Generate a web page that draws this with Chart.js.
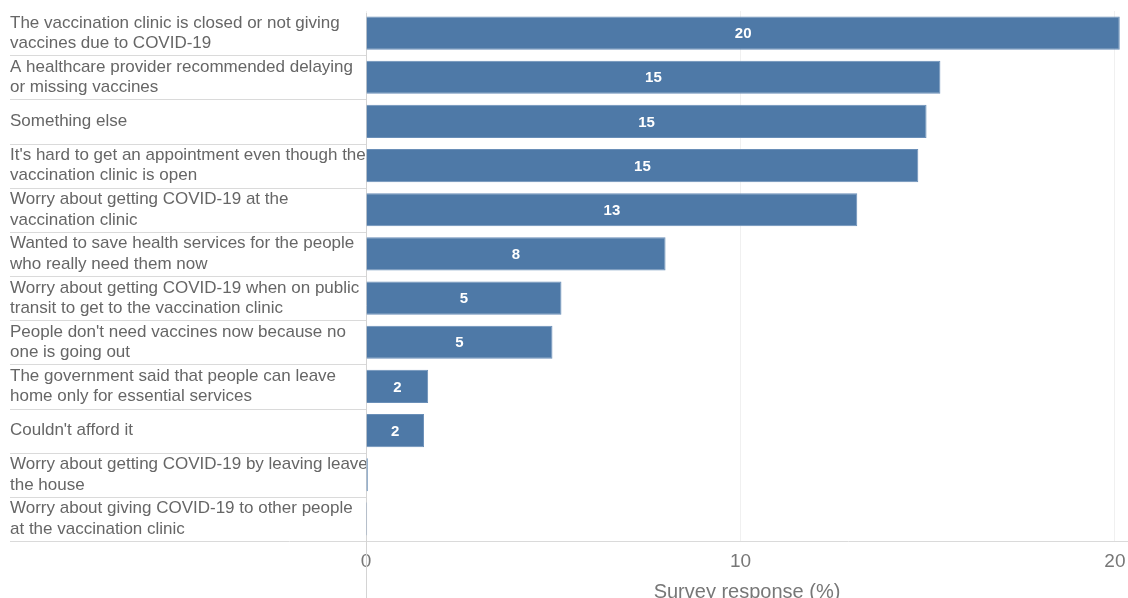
<!DOCTYPE html>
<html>
<head>
<meta charset="utf-8">
<script src="https://cdn.jsdelivr.net/npm/chart.js@4"></script>
<style>
  html, body { margin: 0; padding: 0; background: #fff; }
  #wrap { width: 1128px; height: 598px; position: relative; }
</style>
</head>
<body>
<div id="wrap"><canvas id="c" width="1128" height="598"></canvas></div>
<script>
const categories = [
  ["The vaccination clinic is closed or not giving", "vaccines due to COVID-19"],
  ["A healthcare provider recommended delaying", "or missing vaccines"],
  ["Something else"],
  ["It's hard to get an appointment even though the", "vaccination clinic is open"],
  ["Worry about getting COVID-19 at the", "vaccination clinic"],
  ["Wanted to save health services for the people", "who really need them now"],
  ["Worry about getting COVID-19 when on public", "transit to get to the vaccination clinic"],
  ["People don't need vaccines now because no", "one is going out"],
  ["The government said that people can leave", "home only for essential services"],
  ["Couldn't afford it"],
  ["Worry about getting COVID-19 by leaving leave", "the house"],
  ["Worry about giving COVID-19 to other people", "at the vaccination clinic"]
];
const responseValues = [20.13, 15.34, 14.97, 14.75, 13.12, 8.0, 5.22, 4.98, 1.66, 1.55, 0.05, 0.03];
const xTickValues = [0, 10, 20];
const xAxisTitle = "Survey response (%)";

const FONT = "'Liberation Sans', Arial, sans-serif";

const decorPlugin = {
  id: 'decor',
  beforeDatasetsDraw(chart) {
    const ctx = chart.ctx;
    const ca = chart.chartArea;
    const y = chart.scales.y;
    ctx.save();
    ctx.lineWidth = 1;
    ctx.strokeStyle = '#dadada';
    for (let i = 0; i < categories.length - 1; i++) {
      const py = Math.round((y.getPixelForValue(i) + y.getPixelForValue(i + 1)) / 2) + 0.5;
      ctx.beginPath();
      ctx.moveTo(10, py);
      ctx.lineTo(ca.left, py);
      ctx.stroke();
    }
    const by = Math.round(ca.bottom) + 0.5;
    ctx.beginPath();
    ctx.moveTo(10, by);
    ctx.lineTo(chart.width, by);
    ctx.stroke();
    const lx = Math.round(ca.left) + 0.5;
    ctx.strokeStyle = '#d4d4d4';
    ctx.beginPath();
    ctx.moveTo(lx, ca.top + 2);
    ctx.lineTo(lx, chart.height);
    ctx.stroke();
    ctx.restore();
  },
  afterDatasetsDraw(chart) {
    const ctx = chart.ctx;
    const meta = chart.getDatasetMeta(0);
    ctx.save();
    ctx.fillStyle = '#ffffff';
    ctx.font = "bold 15px " + FONT;
    ctx.textAlign = 'center';
    ctx.textBaseline = 'middle';
    meta.data.forEach((bar, i) => {
      const v = Math.round(responseValues[i]);
      if (v < 1) return;
      const p = bar.getProps(['x', 'y', 'base'], true);
      ctx.fillText(String(v), (p.x + p.base) / 2, p.y + 1);
    });
    ctx.restore();
  }
};

new Chart(document.getElementById('c'), {
  type: 'bar',
  data: {
    labels: categories,
    datasets: [{
      data: responseValues,
      backgroundColor: '#4e79a7',
      borderColor: '#6a8fb8',
      borderWidth: 1,
      categoryPercentage: 1.0,
      barPercentage: 0.75
    }]
  },
  options: {
    indexAxis: 'y',
    responsive: false,
    animation: false,
    devicePixelRatio: 1,
    layout: { padding: { left: 10, top: 11, right: 0, bottom: 0 } },
    plugins: {
      legend: { display: false },
      tooltip: { enabled: false }
    },
    scales: {
      y: {
        type: 'category',
        offset: true,
        grid: { display: false, drawTicks: false },
        border: { display: false },
        ticks: {
          autoSkip: false,
          crossAlign: 'far',
          padding: 0,
          color: '#666666',
          font: { family: FONT, size: 17, lineHeight: 1.2 }
        },
        afterFit(scale) {
          scale.width = 356;
          scale.paddingTop = 0;
          scale.paddingBottom = 0;
        }
      },
      x: {
        min: 0,
        max: 20.35,
        afterBuildTicks(scale) { scale.ticks = xTickValues.map(v => ({ value: v })); },
        grid: { color: '#f0f0f0', drawTicks: false },
        border: { display: false },
        ticks: {
          padding: 9,
          color: '#777777',
          font: { family: FONT, size: 19 }
        },
        title: {
          display: true,
          text: xAxisTitle,
          color: '#777777',
          font: { family: FONT, size: 20 },
          padding: { top: 4, bottom: -6 }
        },
        afterFit(scale) {
          scale.height = 57;
          scale.paddingLeft = 0;
          scale.paddingRight = 0;
        }
      }
    }
  },
  plugins: [decorPlugin]
});
</script>
</body>
</html>
